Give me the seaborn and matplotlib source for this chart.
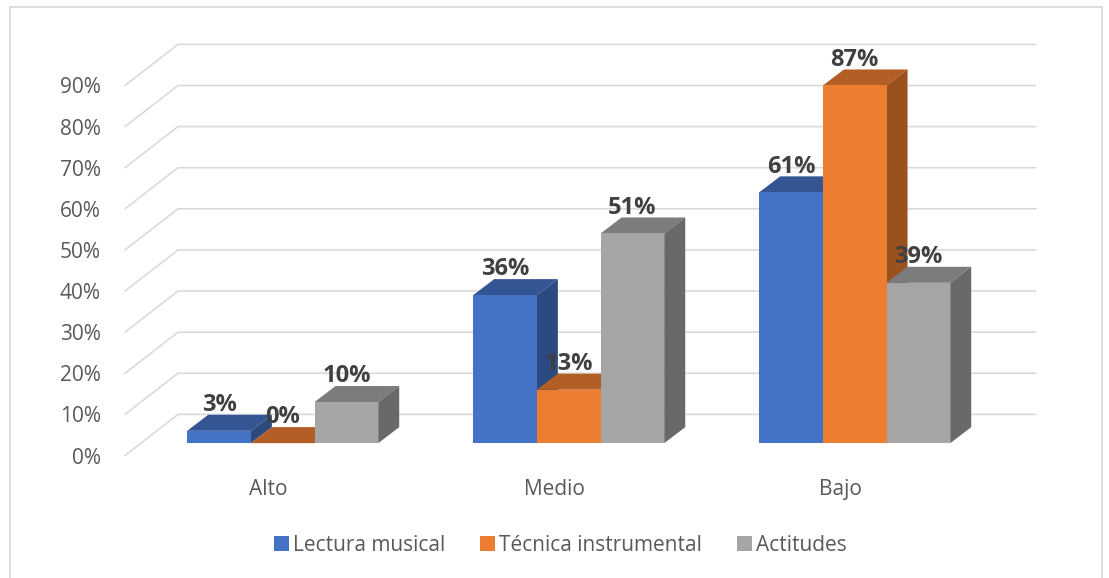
import matplotlib
matplotlib.use("Agg")
import matplotlib.pyplot as plt
from matplotlib.patches import Polygon, Patch, Rectangle
from matplotlib.transforms import Affine2D
import pandas as pd
import seaborn as sns

categories = ["Alto", "Medio", "Bajo"]
lectura = [3, 36, 61]
tecnica = [0, 13, 87]
actitudes = [10, 51, 39]
series_names = ["Lectura musical", "Técnica instrumental", "Actitudes"]
front_colors = ["#4472C4", "#ED7D31", "#A5A5A5"]
top_colors = ["#335593", "#B25E25", "#7C7C7C"]
side_colors = ["#2C4A80", "#9A5120", "#696969"]
yticks = list(range(0, 100, 10))

W, H = 1109, 578
sns.set_theme(style="white")
plt.rcParams["font.family"] = ["Open Sans", "DejaVu Sans"]
TXT = "#595959"
GRID = "#D9D9D9"

df = pd.DataFrame({
    "cat": categories * 3,
    "val": lectura + tecnica + actitudes,
    "serie": [s for s in series_names for _ in categories],
})

fig = plt.figure(figsize=(W / 100, H / 100), dpi=100, facecolor="white")
ax = fig.add_axes([125 / W, (H - 455.5) / H, 858 / W, 370 / H])
fig.add_artist(Rectangle((10 / W, -0.05), 1092 / W, 1.05 - 7 / H, transform=fig.transFigure,
                         fill=False, edgecolor=GRID, linewidth=1.3))

sns.barplot(data=df, x="cat", y="val", hue="serie", order=categories, hue_order=series_names,
            palette=front_colors, saturation=1, width=0.668, gap=0, dodge=True,
            errorbar=None, legend=False, linewidth=0, edgecolor="none", ax=ax)
ax.set_xlim(-0.5, 2.5)
ax.set_ylim(0, 90)

# perspective: wall depth and bar placement, in data units
wall_dx, wall_dy = 53 / 286, 10
base_dx, base_dy = 14.7 / 286, 3.0
depth_dx, depth_dy = 21 / 286, 3.9

for v in yticks:
    ax.plot([-0.5, -0.5 + wall_dx, 2.5 + wall_dx], [v, v + wall_dy, v + wall_dy],
            color=GRID, lw=1.15, clip_on=False, zorder=1, solid_joinstyle="miter")

shift = Affine2D().translate(base_dx, base_dy) + ax.transData
for i, cont in enumerate(ax.containers):
    for bar in cont:
        x0, w, h = bar.get_x(), bar.get_width(), bar.get_height()
        x1 = x0 + w
        z = 3 + i
        top = Polygon([(x0, h), (x1, h), (x1 + depth_dx, h + depth_dy), (x0 + depth_dx, h + depth_dy)],
                      closed=True, facecolor=top_colors[i], edgecolor="none",
                      transform=shift, clip_on=False, zorder=z)
        side = Polygon([(x1, 0), (x1 + depth_dx, depth_dy), (x1 + depth_dx, h + depth_dy), (x1, h)],
                       closed=True, facecolor=side_colors[i], edgecolor="none",
                       transform=shift, clip_on=False, zorder=z)
        ax.add_patch(top)
        ax.add_patch(side)
        bar.set_transform(shift)
        bar.set_clip_on(False)
        bar.set_zorder(z + 0.5)
        ax.annotate(f"{h:.0f}%", (x0 + w / 2 + base_dx, h + base_dy + depth_dy),
                    xytext=(0, 7), textcoords="offset points", ha="center", va="center",
                    fontsize=17, fontweight="bold", color="#404040", zorder=10,
                    annotation_clip=False)

sns.despine(ax=ax, left=True, bottom=True)
ax.set_xlabel("")
ax.set_ylabel("")
ax.set_yticks(yticks)
ax.set_yticklabels([f"{v}%" for v in yticks], fontsize=15, color=TXT, va="center_baseline")
ax.set_xticks(range(len(categories)))
ax.set_xticklabels(categories, fontsize=15, color=TXT)
ax.tick_params(axis="y", length=0, pad=17.5)
ax.tick_params(axis="x", length=0, pad=17)
ax.patch.set_alpha(0)

handles = [Patch(facecolor=c, edgecolor="none", label=n) for c, n in zip(front_colors, series_names)]
fig.legend(handles=handles, loc="center", bbox_to_anchor=(560.5 / W, (H - 545.5) / H), ncol=3,
           frameon=False, fontsize=15, labelcolor=TXT, handlelength=0.7, handleheight=0.7,
           handletextpad=0.2, columnspacing=1.7, borderpad=0, borderaxespad=0)

fig.savefig("out.png", dpi=100, facecolor="white")
